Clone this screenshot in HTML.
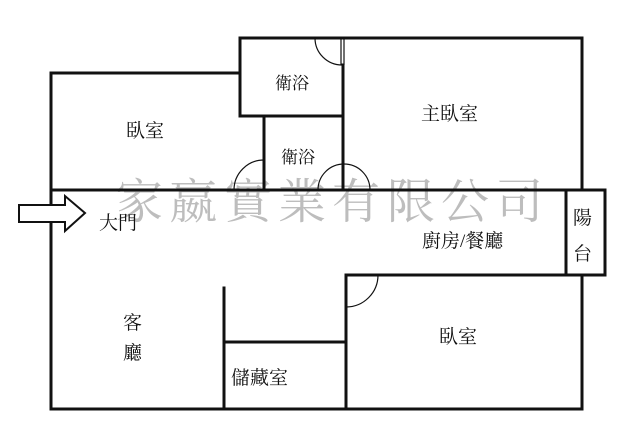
<!DOCTYPE html>
<html><head><meta charset="utf-8"><style>
html,body{margin:0;padding:0;background:#fff;}
svg{display:block;}
text{font-family:"Liberation Serif","Noto Serif CJK SC","Noto Sans CJK TC",serif;fill:#111;}
</style></head><body>
<svg width="640" height="443" viewBox="0 0 640 443" xmlns="http://www.w3.org/2000/svg">
<rect width="640" height="443" fill="#fff"/>
<g style="font-family:'Noto Serif CJK SC','Noto Sans CJK TC',serif;fill:#bdbdbd" font-size="48">
<text x="115" y="218" style="fill:#bdbdbd">家</text>
<text x="169" y="218" style="fill:#bdbdbd">嬴</text>
<text x="224" y="218" style="fill:#bdbdbd">實</text>
<text x="278" y="218" style="fill:#bdbdbd">業</text>
<text x="332" y="218" style="fill:#bdbdbd">有</text>
<text x="387" y="218" style="fill:#bdbdbd">限</text>
<text x="441" y="218" style="fill:#bdbdbd">公</text>
<text x="495" y="218" style="fill:#bdbdbd">司</text>
</g>
<g stroke="#111" stroke-width="3" fill="none" stroke-linecap="square">
<path d="M51 409 V73 H240"/>
<path d="M240 38 H582 V190"/>
<path d="M240 38 V116 H343"/>
<path d="M343 65 V190"/>
<path d="M264 116 V190"/>
<path d="M51 190 H605 V275 H346"/>
<path d="M566 190 V275"/>
<path d="M582 275 V409 H51"/>
<path d="M346 275 V409"/>
<path d="M224 288 V409"/>
<path d="M224 342 H346"/>
</g>
<g stroke="#111" stroke-width="1.2" fill="none">
<path d="M315 38 A27 27 0 0 0 342 65"/>
<line x1="341" y1="38" x2="341" y2="65"/><line x1="344" y1="38" x2="344" y2="65"/>
<path d="M234 190 A30 30 0 0 1 264 160"/>
<path d="M318 190 A26 26 0 0 1 370 190"/>
<path d="M378 275 A32 32 0 0 1 346 307"/>
</g>
<path d="M19 205 H65 V196 L85 213 L65 231 V222 H19 Z" fill="#fff" stroke="#111" stroke-width="2"/>
<g font-size="19">
<text x="126" y="137">臥室</text>
<text x="275" y="89" font-size="17">衛浴</text>
<text x="281" y="163" font-size="17">衛浴</text>
<text x="421" y="120">主臥室</text>
<text x="99" y="229">大門</text>
<text x="422" y="247">廚房/餐廳</text>
<text x="573" y="224">陽</text>
<text x="573" y="260">台</text>
<text x="123" y="329">客</text>
<text x="123" y="359">廳</text>
<text x="231" y="384">儲藏室</text>
<text x="439" y="343">臥室</text>
</g>
</svg>
</body></html>
